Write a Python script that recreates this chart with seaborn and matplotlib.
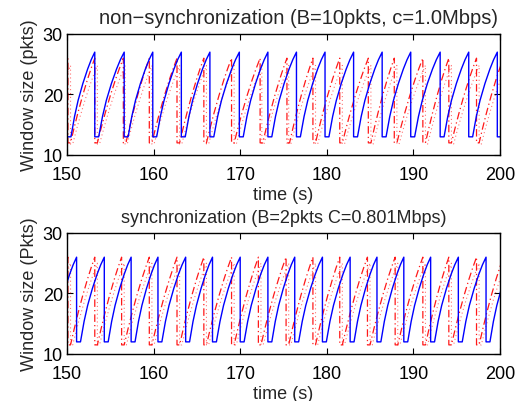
import numpy as np
import pandas as pd
import matplotlib
matplotlib.use("Agg")
import matplotlib.pyplot as plt
import seaborn as sns

# ---- data (drop times in s, window levels in pkts) ----
top_title = "non\u2212synchronization (B=10pkts, c=1.0Mbps)"
bot_title = "synchronization (B=2pkts C=0.801Mbps)"
x_ticks = [150, 160, 170, 180, 190, 200]
y_ticks = [10, 20, 30]

top_blue_drops = [146.7, 150.0, 153.2, 156.6, 159.9, 163.2, 166.5, 169.9, 173.2,
                  176.5, 179.8, 183.1, 186.4, 189.7, 193.1, 196.4, 199.7, 203.0]
top_blue_peak, top_blue_min = 27.0, 13.0

top_dash_drops = [147.0, 150.1, 153.2, 156.5, 159.5, 162.7, 165.8, 169.0, 172.3,
                  175.4, 178.4, 181.5, 184.8, 187.8, 191.1, 194.1, 197.3, 200.4]
top_dash_peak, top_dash_min = 26.0, 12.0

top_dot_drops = [147.4, 150.4, 153.5, 156.7, 159.8, 163.0, 166.1, 169.3, 172.5,
                 175.6, 178.7, 181.8, 185.1, 188.1, 191.4, 194.4, 197.6, 200.7]
top_dot_peak, top_dot_min = 24.8, 11.8

bot_blue_drops = [148.0, 151.1, 154.3, 157.4, 160.5, 163.7, 166.8, 170.0, 173.2,
                  176.3, 179.5, 182.7, 185.8, 188.9, 192.0, 195.2, 198.4, 201.5]
bot_blue_peak, bot_blue_min = 26.0, 12.0

bot_dash_drops = [147.0, 150.1, 153.2, 156.3, 159.5, 162.7, 165.8, 169.0, 172.1,
                  175.3, 178.4, 181.5, 184.7, 187.9, 191.1, 194.1, 197.3, 200.4]
bot_dash_peak, bot_dash_min = 26.0, 11.5

bot_dot_drops = [147.3, 150.4, 153.5, 156.6, 159.8, 163.0, 166.1, 169.3, 172.4,
                 175.6, 178.7, 181.8, 185.0, 188.2, 191.4, 194.4, 197.6, 200.7]
bot_dot_peak, bot_dot_min = 25.0, 11.5

# normalised shape of one congestion-avoidance rise
rise_frac_t = [0.0, 0.15, 0.3, 0.5, 0.7, 0.85, 1.0]
rise_frac_blue = [0.0, 0.24, 0.43, 0.63, 0.8, 0.91, 1.0]
rise_frac_red = [0.0, 0.18, 0.35, 0.56, 0.75, 0.88, 1.0]


def sawtooth(drops, peak, low, dwell, shape):
    ts, ws = [], []
    for i in range(len(drops) - 1):
        d0, d1 = drops[i], drops[i + 1]
        ts += [d0, d0, d0 + dwell]
        ws += [peak, low, low]
        span = d1 - (d0 + dwell)
        for ft, fw in zip(rise_frac_t[1:], shape[1:]):
            ts.append(d0 + dwell + ft * span)
            ws.append(low + fw * (peak - low))
    return pd.DataFrame({"t": ts, "w": ws})


sns.set_style("ticks")
plt.rcParams["font.family"] = ["Liberation Sans", "DejaVu Sans"]
plt.rcParams["axes.linewidth"] = 1.0

fig = plt.figure(figsize=(5.24, 4.02), dpi=100)
ax1 = fig.add_axes([0.128, 0.612, 0.826, 0.301])
ax2 = fig.add_axes([0.128, 0.117, 0.826, 0.301])

panels = [
    (ax1, top_title, "Window size (pkts)", 14.5, 8, 0.535,
     (top_blue_drops, top_blue_peak, top_blue_min),
     (top_dash_drops, top_dash_peak, top_dash_min),
     (top_dot_drops, top_dot_peak, top_dot_min)),
    (ax2, bot_title, "Window size (Pkts)", 13.0, 8, 0.5,
     (bot_blue_drops, bot_blue_peak, bot_blue_min),
     (bot_dash_drops, bot_dash_peak, bot_dash_min),
     (bot_dot_drops, bot_dot_peak, bot_dot_min)),
]

for ax, title, ylab, tsize, tpad, tx, blue, dash, dot in panels:
    d_dot = sawtooth(*dot, dwell=0.25, shape=rise_frac_red)
    d_dash = sawtooth(*dash, dwell=0.3, shape=rise_frac_red)
    d_blue = sawtooth(*blue, dwell=0.45, shape=rise_frac_blue)
    sns.lineplot(data=d_dot, x="t", y="w", ax=ax, sort=False, estimator=None,
                 color="#ff0000", lw=0.8, linestyle=(0, (1, 2.5)), alpha=0.55)
    sns.lineplot(data=d_dash, x="t", y="w", ax=ax, sort=False, estimator=None,
                 color="#ff0000", lw=0.9, linestyle=(0, (6, 2.5, 1, 2.5)), alpha=0.9)
    sns.lineplot(data=d_blue, x="t", y="w", ax=ax, sort=False, estimator=None,
                 color="#0000ff", lw=1.0)
    ax.set_xlim(150, 200)
    ax.set_ylim(10, 30)
    ax.set_xticks(x_ticks)
    ax.set_yticks(y_ticks)
    ax.tick_params(direction="in", top=True, right=True, labelsize=13,
                   length=4, width=0.8, colors="black")
    ax.tick_params(axis="x", pad=8)
    ax.tick_params(axis="y", pad=3)
    ax.set_xlabel("time (s)", fontsize=13, labelpad=2)
    ax.set_ylabel(ylab, fontsize=13)
    ax.yaxis.set_label_coords(-0.068, 0.5)
    ax.set_title(title, fontsize=tsize, pad=tpad, x=tx)
    for s in ax.spines.values():
        s.set_visible(True)
        s.set_color("black")

fig.savefig("out.png", dpi=100)
